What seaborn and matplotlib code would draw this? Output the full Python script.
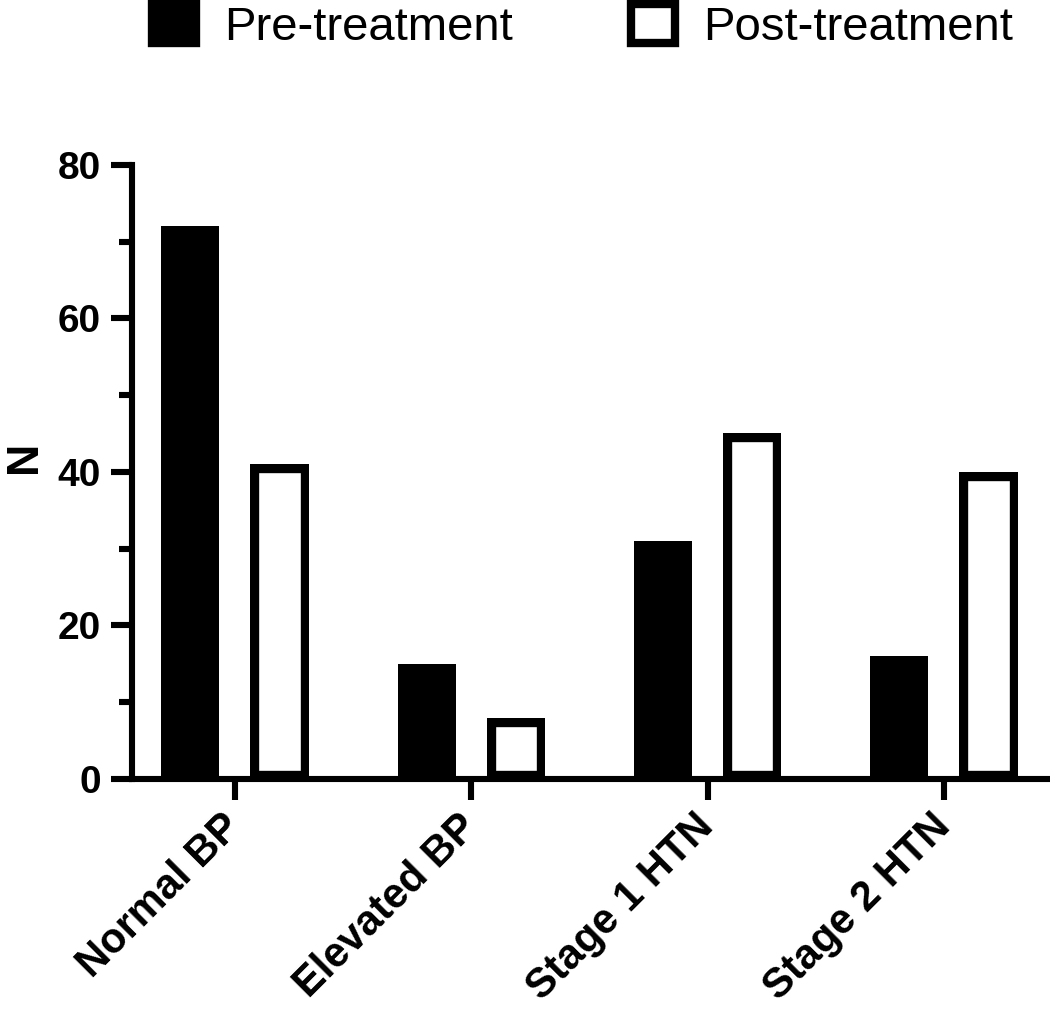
import pandas as pd
import numpy as np
import matplotlib
matplotlib.use("Agg")
import matplotlib.pyplot as plt
import seaborn as sns
from matplotlib.ticker import MultipleLocator

categories = ['Normal BP', 'Elevated BP', 'Stage 1 HTN', 'Stage 2 HTN']
groups = ['Pre-treatment', 'Post-treatment']
pre_treatment = [72, 15, 31, 16]
post_treatment = [41, 8, 45, 40]
y_ticks = [0, 20, 40, 60, 80]

df = pd.DataFrame({
    'category': categories * 2,
    'group': [groups[0]] * 4 + [groups[1]] * 4,
    'N': pre_treatment + post_treatment,
})

sns.set_style('ticks', {'axes.edgecolor': 'black', 'xtick.color': 'black',
                        'ytick.color': 'black', 'text.color': 'black',
                        'axes.labelcolor': 'black'})
plt.rcParams['font.family'] = ['Liberation Sans', 'DejaVu Sans']

fig = plt.figure(figsize=(10.5, 10.1), dpi=100)
ax = fig.add_axes([0.1254, 0.2287, 0.998 - 0.1254, 0.8369 - 0.2287])

sns.barplot(data=df, x='category', y='N', hue='group',
            palette={groups[0]: 'black', groups[1]: 'white'},
            edgecolor='black', linewidth=12.5, width=0.754, gap=0.347,
            errorbar=None, ax=ax)

# keep bar outlines inside the bars (Prism style)
for p in ax.patches:
    p.set_clip_path(p)

ax.set_ylim(0, 80)
ax.set_xlim(-0.437, 3.44)
ax.set_yticks(y_ticks)
ax.yaxis.set_minor_locator(MultipleLocator(10))

for side in ['top', 'right']:
    ax.spines[side].set_visible(False)
for side in ['left', 'bottom']:
    ax.spines[side].set_linewidth(4.4)
    ax.spines[side].set_zorder(5)

ax.tick_params(axis='both', which='major', length=15, width=4.4, color='black')
ax.tick_params(axis='y', which='minor', length=9.5, width=4.4, color='black')
ax.tick_params(axis='y', labelsize=28, pad=7)
ax.tick_params(axis='x', labelsize=30, pad=15)
for lab in ax.get_yticklabels():
    lab.set_fontweight('bold')
for lab in ax.get_xticklabels():
    lab.set_fontweight('bold')
    lab.set_rotation(45)
    lab.set_ha('right')
    lab.set_va('center')
    lab.set_rotation_mode('anchor')

ax.set_xlabel('')
ax.set_ylabel('N', fontsize=32, fontweight='bold')
ax.yaxis.set_label_coords(-0.095, 0.524)

sns.move_legend(ax, 'upper left', bbox_to_anchor=(152 / 1050, 0.996),
                bbox_transform=fig.transFigure, ncol=2, frameon=False,
                title=None, fontsize=34, handlelength=0.93, handleheight=0.89,
                handletextpad=0.6, columnspacing=2.5, borderpad=0,
                borderaxespad=0)
leg = ax.get_legend()
for h in leg.legend_handles:
    h.set_linewidth(6)
    h.set_edgecolor('black')

fig.savefig('out.png', dpi=100)
